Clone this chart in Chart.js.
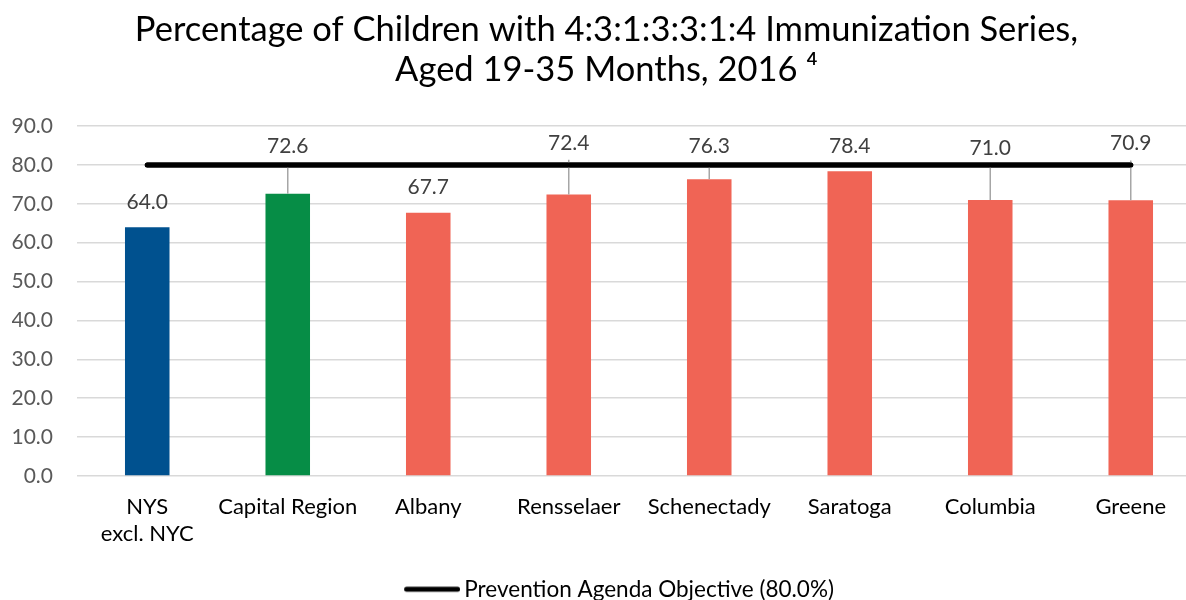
<!DOCTYPE html>
<html>
<head>
<meta charset="utf-8">
<script src="https://cdn.jsdelivr.net/npm/chart.js@4"></script>
<style>
  html, body { margin: 0; padding: 0; background: #fff; overflow: hidden; }
  #wrap { width: 1222px; height: 600px; position: relative; }
</style>
</head>
<body>
<div id="wrap"><canvas id="c"></canvas></div>
<script>
const categories = [['NYS', 'excl. NYC'], 'Capital Region', 'Albany', 'Rensselaer', 'Schenectady', 'Saratoga', 'Columbia', 'Greene'];
const immunizationPct = [64.0, 72.6, 67.7, 72.4, 76.3, 78.4, 71.0, 70.9];
const objectivePct = [80, 80, 80, 80, 80, 80, 80, 80];
const barColors = ['#00518F', '#068D46', '#F06455', '#F06455', '#F06455', '#F06455', '#F06455', '#F06455'];
const yTicks = [0, 10, 20, 30, 40, 50, 60, 70, 80, 90];
const titleLines = ['Percentage of Children with 4:3:1:3:3:1:4 Immunization Series,', 'Aged 19-35 Months, 2016 \u2074'];
const objectiveLabel = 'Prevention Agenda Objective (80.0%)';

// label placement (in value units) and leader-line flags, as moved in the original
const labelAt = [70.5, 84.7, 74.3, 85.7, 84.8, 84.8, 84.2, 85.5];
const leader = [false, true, false, true, true, false, true, true];

const FONT = 'Lato, "Open Sans", sans-serif';

// legend swatch: a thick round-capped line that runs up to the text
const swatch = document.createElement('canvas');
swatch.width = 88; swatch.height = 8;
(function () {
  const g = swatch.getContext('2d');
  g.strokeStyle = '#000';
  g.lineWidth = 5;
  g.lineCap = 'round';
  g.beginPath();
  g.moveTo(34.5, 4);
  g.lineTo(85.5, 4);
  g.stroke();
})();

const labelPlugin = {
  id: 'barLabels',
  afterDatasetsDraw(chart) {
    const ctx = chart.ctx;
    const meta = chart.getDatasetMeta(0);
    const y = chart.scales.y;
    ctx.save();
    meta.data.forEach((bar, i) => {
      const ly = y.getPixelForValue(labelAt[i]);
      if (leader[i]) {
        ctx.strokeStyle = '#A6A6A6';
        ctx.lineWidth = 1.5;
        ctx.beginPath();
        ctx.moveTo(bar.x, ly + 17);
        ctx.lineTo(bar.x, bar.y);
        ctx.stroke();
      }
    });
    // redraw objective line on top of leaders
    chart.getDatasetMeta(1).controller.draw();
    ctx.fillStyle = '#404040';
    ctx.font = '21px ' + FONT;
    ctx.textAlign = 'center';
    ctx.textBaseline = 'middle';
    meta.data.forEach((bar, i) => {
      const ly = y.getPixelForValue(labelAt[i]);
      ctx.fillText(immunizationPct[i].toFixed(1), bar.x, ly);
    });
    ctx.restore();
  }
};

new Chart(document.getElementById('c'), {
  data: {
    labels: categories,
    datasets: [
      {
        type: 'bar',
        label: 'Percentage',
        data: immunizationPct,
        backgroundColor: barColors,
        borderWidth: 0,
        categoryPercentage: 1,
        barPercentage: 0.317,
        order: 2
      },
      {
        type: 'line',
        label: objectiveLabel,
        data: objectivePct,
        borderColor: '#000000',
        backgroundColor: '#000000',
        borderWidth: 5,
        borderCapStyle: 'round',
        pointRadius: 0,
        pointHoverRadius: 0,
        pointStyle: swatch,
        fill: false,
        order: 1
      }
    ]
  },
  options: {
    responsive: true,
    maintainAspectRatio: false,
    animation: false,
    layout: { padding: { left: 12, right: 21, top: 0, bottom: -10.5 } },
    plugins: {
      title: {
        display: true,
        text: titleLines,
        color: '#000000',
        font: { family: FONT, size: 34.5, weight: 'normal', lineHeight: 1.16 },
        padding: { top: 10, bottom: 36 }
      },
      legend: {
        display: true,
        position: 'bottom',
        labels: {
          filter: (item) => item.datasetIndex === 1,
          usePointStyle: true,
          pointStyleWidth: 74,
          boxHeight: 22,
          color: '#000000',
          padding: 4,
          font: { family: FONT, size: 22.5 }
        }
      },
      tooltip: { enabled: false }
    },
    scales: {
      x: {
        grid: { display: false, drawTicks: false },
        border: { display: false },
        ticks: {
          color: '#000000',
          padding: 17.5,
          maxRotation: 0,
          autoSkip: false,
          font: { family: FONT, size: 22, lineHeight: 1.23 }
        },
        afterFit(scale) { scale.height = 98; }
      },
      y: {
        min: 0,
        max: 90,
        afterBuildTicks(scale) { scale.ticks = yTicks.map(v => ({ value: v })); },
        afterFit(scale) { scale.width = 65; },
        grid: { color: '#D9D9D9', lineWidth: 1.5, drawTicks: false },
        border: { display: false },
        ticks: {
          color: '#595959',
          padding: 24,
          font: { family: FONT, size: 21 },
          callback: (v) => Number(v).toFixed(1)
        }
      }
    }
  },
  plugins: [labelPlugin]
});
</script>
</body>
</html>
